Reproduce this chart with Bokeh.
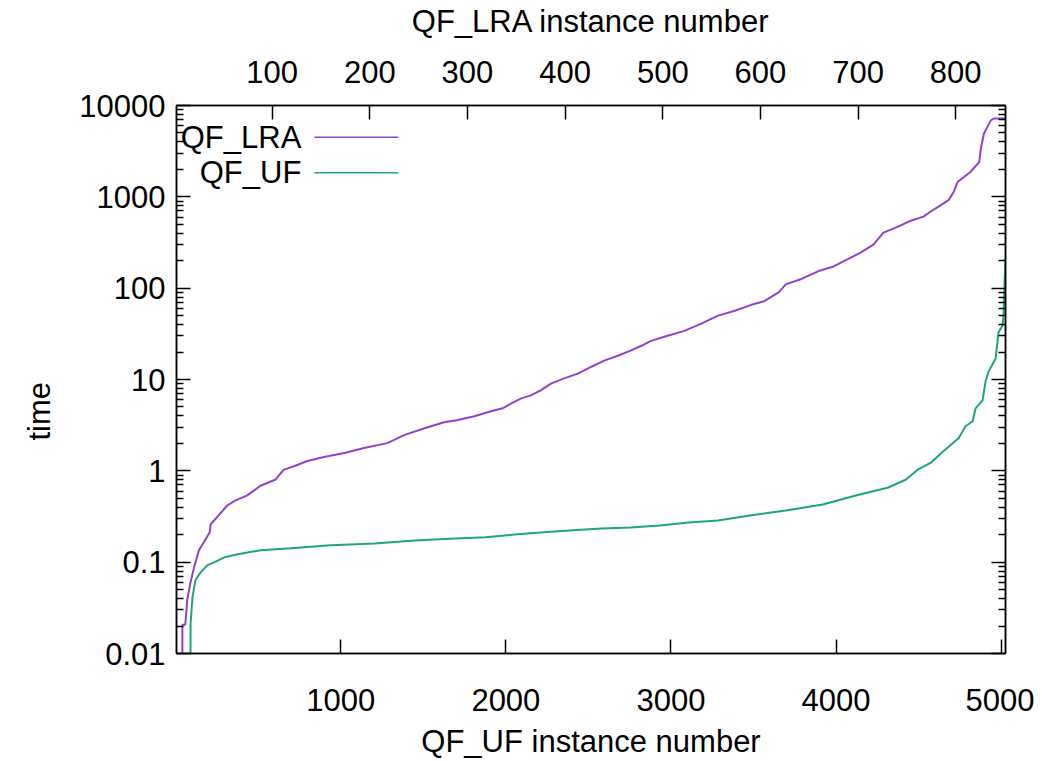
from bokeh.plotting import figure
from bokeh.models import Range1d, LinearAxis, LogAxis, FixedTicker, CustomJSTickFormatter, Label, Arrow, Title
from bokeh.embed import file_html
from bokeh.resources import INLINE

# QF_UF series (bottom axis: instance number, time in s)
uf_index = [90, 90, 102, 120, 144, 163, 193, 235, 296, 375, 514, 696, 938, 1205, 1447,
            1690, 1878, 2053, 2229, 2405, 2581, 2757, 2932, 3108, 3284, 3478, 3695,
            3919, 4137, 4312, 4421, 4494, 4572, 4651, 4742, 4784, 4827, 4845, 4887,
            4905, 4923, 4966, 4984, 5008, 5014, 5020, 5026]
uf_time = [0.004, 0.021, 0.0417, 0.0637, 0.0741, 0.0818, 0.0927, 0.100, 0.113, 0.122,
           0.135, 0.142, 0.153, 0.160, 0.173, 0.182, 0.187, 0.201, 0.212, 0.223, 0.234,
           0.240, 0.252, 0.272, 0.286, 0.325, 0.368, 0.427, 0.548, 0.653, 0.798, 1.03,
           1.22, 1.65, 2.28, 3.08, 3.49, 4.84, 5.92, 9.5, 12.2, 16.9, 33, 38.7, 49.7,
           116, 210]

# QF_LRA series (top axis: instance number, time in s)
lra_index = [8, 8, 11, 13, 16, 20, 25, 30, 36, 37, 46, 54, 62, 74, 88, 103, 112, 123,
             136, 153, 174, 194, 218, 235, 256, 276, 289, 307, 324, 336, 345, 355, 365,
             375, 386, 399, 413, 427, 440, 454, 467, 478, 488, 505, 522, 539, 556, 573,
             590, 604, 619, 626, 641, 659, 675, 689, 703, 716, 726, 741, 754, 767, 774,
             782, 793, 798, 802, 815, 824, 826, 829, 836, 839, 851]
lra_time = [0.004, 0.0207, 0.0207, 0.0387, 0.0577, 0.0883, 0.135, 0.165, 0.212, 0.259,
            0.333, 0.417, 0.472, 0.535, 0.687, 0.798, 1.03, 1.13, 1.28, 1.42, 1.57, 1.78,
            2.01, 2.46, 2.93, 3.41, 3.58, 3.96, 4.49, 4.84, 5.48, 6.21, 6.70, 7.59, 9.06,
            10.3, 11.6, 13.8, 16.1, 18.2, 20.7, 23.4, 26.5, 30.1, 34.1, 40.6, 49.7, 56.2,
            65.3, 72.2, 90.6, 110, 125, 153, 173, 207, 246, 301, 406, 472, 548, 607, 687,
            778, 927, 1133, 1456, 1871, 2402, 3494, 4965, 6870, 7200, 7200]

y_ticks = [0.01, 0.1, 1, 10, 100, 1000, 10000]
uf_ticks = [1000, 2000, 3000, 4000, 5000]
lra_ticks = [100, 200, 300, 400, 500, 600, 700, 800]
labels = ["QF_LRA", "QF_UF"]

PURPLE = "#9440cf"
GREEN = "#1ea57a"
FONT = "Liberation Sans"
FS = "31px"

y_minor = [t * k for t in y_ticks[:-1] for k in range(2, 10)]

p = figure(width=1034, height=761, x_range=Range1d(5, 5026),
           y_range=Range1d(0.01, 10000), y_axis_type="log",
           output_backend="svg", toolbar_location=None,
           min_border_left=175, min_border_right=29, min_border_top=105,
           min_border_bottom=104)
p.extra_x_ranges = {"lra": Range1d(2, 851)}
p.grid.visible = False
p.outline_line_color = "black"
p.outline_line_width = 1.5
p.background_fill_color = "white"
p.border_fill_color = "white"


def style(ax, label_standoff, axis_standoff):
    ax.axis_line_color = "black"
    ax.axis_line_width = 1.5
    ax.major_tick_in = 14
    ax.major_tick_out = 0
    ax.minor_tick_in = 7
    ax.minor_tick_out = 0
    ax.major_tick_line_width = 1.5
    ax.minor_tick_line_width = 1.5
    ax.major_tick_line_color = "black"
    ax.minor_tick_line_color = "black"
    ax.major_label_text_font = FONT
    ax.major_label_text_font_size = FS
    ax.major_label_text_color = "black"
    ax.axis_label_text_font = FONT
    ax.axis_label_text_font_size = FS
    ax.axis_label_text_font_style = "normal"
    ax.axis_label_text_color = "black"
    ax.major_label_standoff = label_standoff
    ax.axis_label_standoff = axis_standoff


fmt = CustomJSTickFormatter(code="return Number(tick.toPrecision(6)).toString();")

# bottom axis
bx = p.xaxis[0]
bx.ticker = FixedTicker(ticks=uf_ticks)
bx.axis_label = "QF_UF instance number"
style(bx, 35, 10)
bx.minor_tick_line_color = None

# left axis
ly = p.yaxis[0]
ly.ticker = FixedTicker(ticks=y_ticks, minor_ticks=y_minor)
ly.formatter = fmt
style(ly, 11, 25)

# y axis title placed like gnuplot (slightly below the centre)
p.add_layout(Title(text="time", align="left", offset=213, standoff=39,
                   text_font=FONT, text_font_size=FS, text_font_style="normal",
                   text_color="black"), "left")

# top axis
tx = LinearAxis(x_range_name="lra", axis_label="QF_LRA instance number",
                ticker=FixedTicker(ticks=lra_ticks))
style(tx, 23, 19)
tx.minor_tick_line_color = None
p.add_layout(tx, "above")

# right mirror axis
ry = LogAxis(ticker=FixedTicker(ticks=y_ticks, minor_ticks=y_minor),
             formatter=CustomJSTickFormatter(code="return '';"))
style(ry, 0, 0)
ry.major_label_text_font_size = "1px"
p.add_layout(ry, "right")

p.line(lra_index, lra_time, x_range_name="lra", line_color=PURPLE, line_width=2)
p.line(uf_index, uf_time, line_color=GREEN, line_width=2)

# gnuplot-style key (text right-aligned, sample line to the right)
xs = p.x_range
span = xs.end - xs.start
key_text_x = xs.start + span * 0.1506
key_line_x0 = xs.start + span * 0.1663
key_line_x1 = xs.start + span * 0.2675
key_rows = [4480, 1830]
for lab, col, yy in zip(labels, [PURPLE, GREEN], key_rows):
    p.add_layout(Label(x=key_text_x, y=yy, text=lab, text_align="right",
                       text_baseline="middle", text_font=FONT, text_font_size=FS,
                       text_color="black"))
    p.add_layout(Arrow(end=None, x_start=key_line_x0, y_start=yy, x_end=key_line_x1,
                       y_end=yy, line_color=col, line_width=1.5))

open("out.html", "w").write(file_html(p, INLINE))
